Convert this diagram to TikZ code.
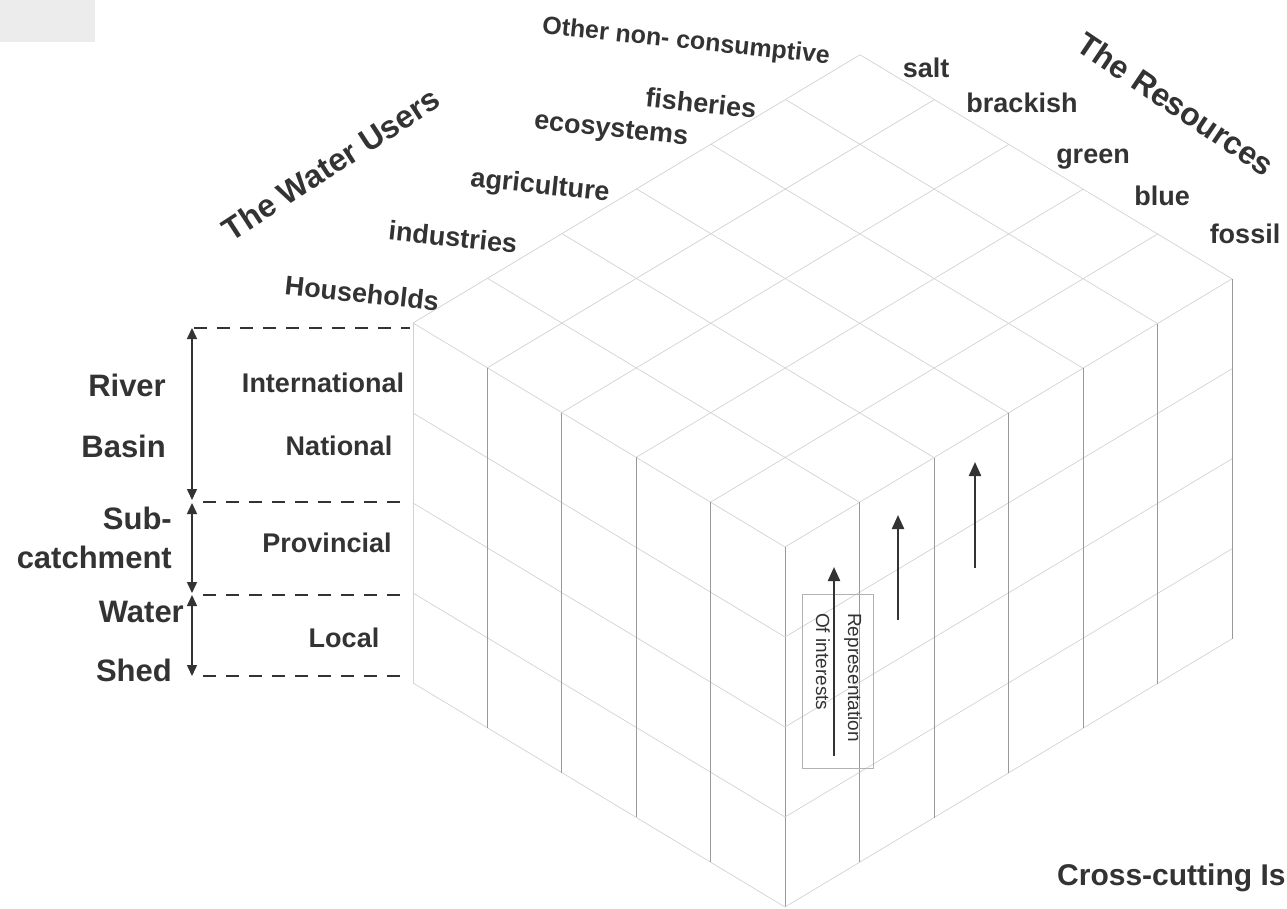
\documentclass[tikz,border=0pt]{standalone}
\usepackage{fontspec}
\setmainfont{Liberation Sans}
\usetikzlibrary{arrows.meta}
\definecolor{ink}{rgb}{0.2,0.2,0.2}
\begin{document}
\begin{tikzpicture}[x=1pt,y=-1pt,
  lab/.style={font=\fontsize{27}{30}\selectfont\bfseries, text=ink, inner sep=0pt},
  big/.style={font=\fontsize{31}{34}\selectfont\bfseries, text=ink, inner sep=0pt},
  ttl/.style={font=\fontsize{32}{36}\selectfont\bfseries, text=ink, inner sep=0pt},
  vline/.style={draw=gray!80, line width=0.8pt},
  gline/.style={draw=gray!35, line width=0.7pt},
  dashline/.style={draw=ink, line width=2pt, dash pattern=on 13pt off 10pt},
  arr/.style={draw=ink, line width=2.2pt, -{Triangle[width=12pt,length=14pt]}},
  darr/.style={draw=ink, line width=1.5pt, {Triangle[width=10pt,length=11pt]}-{Triangle[width=10pt,length=11pt]}}
]
\useasboundingbox (0,0) rectangle (1287,909);
\fill[gray!15] (0,0) rectangle (95,42);

% ---- cube: top face grid
\foreach \i in {0,...,5} \draw[gline] (413+74.4*\i, 323+44.8*\i) -- ++(447,-268.2);
\foreach \j in {0,...,6} \draw[gline] (413+74.5*\j, 323-44.7*\j) -- ++(372,224);
% left face
\foreach \k in {1,...,4} \draw[gline] (413, 323+90*\k) -- ++(372,224);
\draw[gline] (413,323) -- ++(0,360);
\foreach \i in {1,...,5} \draw[vline] (413+74.4*\i, 323+44.8*\i) -- ++(0,360);
% right face
\foreach \k in {1,...,4} \draw[gline] (785, 547+90*\k) -- ++(447,-268.2);
\foreach \j in {1,...,6} \draw[vline] (785+74.5*\j, 547-44.7*\j) -- ++(0,360);

% ---- left scale
\coordinate (d1l) at (194,328); \coordinate (d1r) at (410,328);
\coordinate (d2l) at (203,502); \coordinate (d2r) at (410,502);
\coordinate (d3l) at (203,595); \coordinate (d3r) at (410,595);
\coordinate (d4l) at (203,676); \coordinate (d4r) at (410,676);
\draw[dashline] (d1l) -- (d1r);
\draw[dashline] (d2l) -- (d2r);
\draw[dashline] (d3l) -- (d3r);
\draw[dashline] (d4l) -- (d4r);
\coordinate (s1t) at (192,328); \coordinate (s1b) at (192,500);
\coordinate (s2t) at (192,503); \coordinate (s2b) at (192,593);
\coordinate (s3t) at (192,595); \coordinate (s3b) at (192,676);
\draw[darr] (s1t) -- (s1b);
\draw[darr] (s2t) -- (s2b);
\draw[darr] (s3t) -- (s3b);

\node[big, anchor=east] (river) at (166,385) {River};
\node[big, anchor=east] (basin) at (166,446) {Basin};
\node[big, anchor=east] (sub) at (172,518) {Sub-};
\node[big, anchor=east] (catch) at (172,557) {catchment};
\node[big, anchor=east] (water) at (184,612) {Water};
\node[big, anchor=east] (shed) at (172,670) {Shed};

\node[lab] (intl) at (323,383) {International};
\node[lab] (natl) at (339,446) {National};
\node[lab] (prov) at (327,543) {Provincial};
\node[lab] (local) at (344,638) {Local};

% ---- users
\node[ttl, rotate=33] (users) at (331,164) {The Water Users};
\node[lab, rotate=-6] (hh) at (362,293) {Households};
\node[lab, rotate=-6] (ind) at (453,237) {industries};
\node[lab, rotate=-6] (agr) at (540,187) {agriculture};
\node[lab, rotate=-6] (eco) at (611,131) {ecosystems};
\node[lab, rotate=-6] (fish) at (701,103) {fisheries};
\node[lab, rotate=-6, font=\fontsize{25}{28}\selectfont\bfseries] (other) at (686,42) {Other non- consumptive};

% ---- resources
\node[ttl, rotate=-34] (res) at (1176,104) {The Resources};
\node[lab] (salt) at (926,68) {salt};
\node[lab] (brack) at (1022,103) {brackish};
\node[lab] (green) at (1093,159) {green};
\node[lab] (blue) at (1162,196) {blue};
\node[lab] (fossil) at (1245,234) {fossil};

% ---- representation
\node[draw=gray!60, line width=0.7pt, minimum width=71pt, minimum height=174pt, inner sep=0pt] (repbox) at (837.5,681.5) {};
\node[rotate=-90, anchor=north west, font=\fontsize{19}{32}\selectfont, text=ink, align=left, inner sep=0pt] (reptxt) at (862,613) {Representation\\Of interests};
\coordinate (a1s) at (834,756); \coordinate (a1e) at (834,567);
\coordinate (a2s) at (898,620); \coordinate (a2e) at (898,515);
\coordinate (a3s) at (975,568); \coordinate (a3e) at (975,462);
\draw[arr] (a1s) -- (a1e);
\draw[arr] (a2s) -- (a2e);
\draw[arr] (a3s) -- (a3e);

\node[anchor=west, font=\fontsize{30}{33}\selectfont\bfseries, text=ink, inner sep=0pt] (cross) at (1057,878) {Cross-cutting Is};
\end{tikzpicture}
\end{document}
